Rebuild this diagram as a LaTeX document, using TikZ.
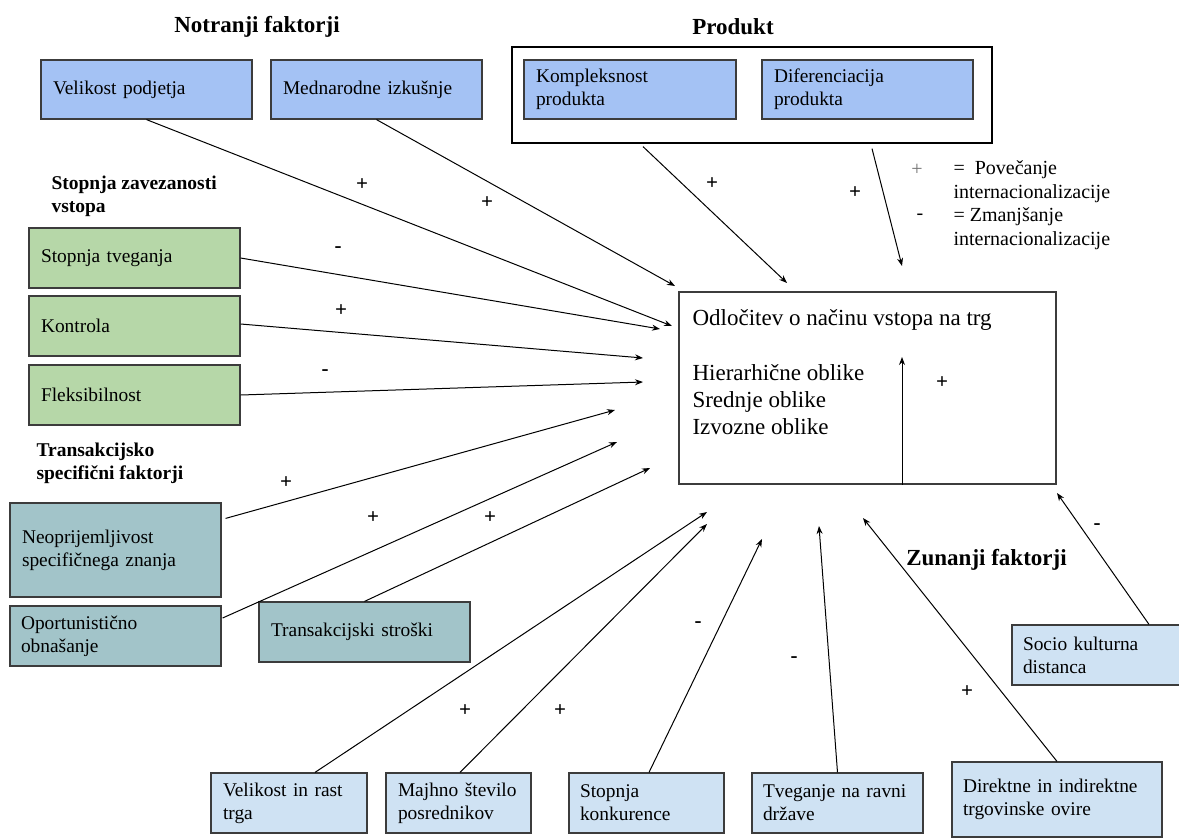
\documentclass[tikz,border=0pt]{standalone}
\usepackage{fontspec}
\setmainfont{Liberation Serif}
\usetikzlibrary{arrows.meta}

\definecolor{blueA}{RGB}{164,194,244}
\definecolor{greenA}{RGB}{182,215,168}
\definecolor{tealA}{RGB}{162,196,201}
\definecolor{blueB}{RGB}{207,226,243}
\definecolor{rim}{RGB}{60,60,60}

\begin{document}
\begin{tikzpicture}[x=1pt,y=-1pt,
  box/.style={draw=rim, line width=1.2pt, align=left, inner xsep=12pt, inner ysep=0pt, font=\fontsize{19.4}{23}\selectfont},
  head/.style={font=\fontsize{23}{27}\selectfont\bfseries},
  subhead/.style={font=\fontsize{19.5}{23}\selectfont\bfseries, align=left},
  sign/.style={font=\fontsize{21}{21}\selectfont\bfseries},
  legend/.style={font=\fontsize{20}{23.5}\selectfont, anchor=west, align=left},
  arr/.style={line width=1pt, -{Stealth[length=8pt,width=6pt]}}]
\useasboundingbox (0,0) rectangle (1179,839);

% titles
\node[head] (nf) at (257,27) {Notranji faktorji};
\node[head] (pr) at (733,27) {Produkt};
\node[subhead, anchor=west] (sz) at (48,196) {Stopnja zavezanosti\\vstopa};
\node[subhead, anchor=west] (tf) at (33,463) {Transakcijsko\\specifični faktorji};
\node[head] (zf) at (986.5,560) {Zunanji faktorji};

% product frame
\node[draw, line width=2.5pt, minimum width=480, minimum height=96] (frame) at (752,95) {};

% boxes
\node[box, fill=blueA, text width=187, minimum height=59] (vp) at (146.5,89.5) {Velikost podjetja};
\node[box, fill=blueA, text width=187, minimum height=59] (mi) at (376.5,89.5) {Mednarodne izkušnje};
\node[box, fill=blueA, text width=188, minimum height=59] (kp) at (630,89.5) {Kompleksnost\\produkta};
\node[box, fill=blueA, text width=187, minimum height=59] (dp) at (867.5,89.5) {Diferenciacija\\produkta};
\node[box, fill=greenA, text width=187, minimum height=60] (st) at (134.5,258) {Stopnja tveganja};
\node[box, fill=greenA, text width=187, minimum height=60] (ko) at (134.5,326) {Kontrola};
\node[box, fill=greenA, text width=187, minimum height=60] (fl) at (134.5,395) {Fleksibilnost};
\node[box, fill=tealA, text width=187, minimum height=94] (ns) at (115.5,550) {Neoprijemljivost\\specifičnega znanja};
\node[box, fill=tealA, text width=189, inner xsep=11pt, minimum height=60] (oo) at (115.5,636) {Oportunistično\\obnašanje};
\node[box, fill=tealA, text width=187, minimum height=60] (ts) at (364.5,632) {Transakcijski stroški};
\node[box, fill=blueB, text width=151, inner xsep=11pt, minimum height=60] (sk) at (1098.5,655) {Socio kulturna\\distanca};
\node[box, fill=blueB, text width=132, minimum height=60] (vr) at (289,803) {Velikost in rast\\trga};
\node[box, fill=blueB, text width=121, minimum height=60] (ms) at (458.5,803) {Majhno število\\posrednikov};
\node[box, fill=blueB, text width=133, inner xsep=11pt, minimum height=60] (sc) at (646.5,803) {Stopnja\\konkurence};
\node[box, fill=blueB, text width=149, inner xsep=11pt, minimum height=60] (tv) at (837.5,803) {Tveganje na ravni\\države};
\node[box, fill=blueB, text width=188, inner xsep=11pt, minimum height=75] (dt) at (1057,799.5) {Direktne in indirektne\\trgovinske ovire};

% decision box
\node[draw=rim, line width=1.2pt, minimum width=377, minimum height=192] (odl) at (867.5,388) {};
\node[anchor=west, font=\fontsize{23}{27}\selectfont] (o1) at (689,320) {Odločitev o načinu vstopa na trg};
\node[anchor=west, align=left, font=\fontsize{23}{27}\selectfont] (o2) at (689,400) {Hierarhične oblike\\Srednje oblike\\Izvozne oblike};
\coordinate (up) at (902,357);
\draw[arr] ([xshift=34.5pt]odl.south) -- (up);
\node[sign] (p0) at (942,383) {+};

% legend
\node[font=\fontsize{20}{20}\selectfont, text=black!55] (l1) at (917,170) {+};
\node[legend] (l2) at (950,181.5) {=\ \ Povečanje\\internacionalizacije};
\node[font=\fontsize{20}{20}\selectfont] (l3) at (920,217) {-};
\node[legend] (l4) at (950,228.5) {= Zmanjšanje\\internacionalizacije};

% arrow ends
\coordinate (e1) at (672,326);
\coordinate (e2) at (675,286);
\coordinate (e3) at (787,283);
\coordinate (e4) at (902,266);
\coordinate (e5) at (660,329);
\coordinate (e6) at (643,358);
\coordinate (e7) at (643,382);
\coordinate (e8) at (615,410);
\coordinate (e9) at (617,442);
\coordinate (e10) at (650,468);
\coordinate (e11) at (707,512);
\coordinate (e12) at (707,524);
\coordinate (e13) at (762,539);
\coordinate (e14) at (819,526);
\coordinate (e15) at (863,518);
\coordinate (e16) at (1057,493);

\draw[arr] (vp.south) -- (e1);
\draw[arr] (mi.south) -- (e2);
\draw[arr] ([xshift=13pt,yshift=-27pt]kp.south) -- (e3);
\draw[arr] ([xshift=4.5pt,yshift=-29pt]dp.south) -- (e4);
\draw[arr] (st.east) -- (e5);
\draw[arr] ([yshift=2pt]ko.east) -- (e6);
\draw[arr] (fl.east) -- (e7);
\draw[arr] ([xshift=4pt,yshift=-16pt]ns.north east) -- (e8);
\draw[arr] ([xshift=1pt,yshift=18pt]oo.east) -- (e9);
\draw[arr] (ts.north) -- (e10);
\draw[arr] ([xshift=26pt]vr.north) -- (e11);
\draw[arr] ([xshift=1.5pt]ms.north) -- (e12);
\draw[arr] ([xshift=2.5pt]sc.north) -- (e13);
\draw[arr] (tv.north) -- (e14);
\draw[arr] (dt.north) -- (e15);
\draw[arr] ([xshift=50.5pt]sk.north) -- (e16);

% signs
\node[sign] (s1) at (362,185) {+};
\node[sign] (s2) at (487,203) {+};
\node[sign] (s3) at (712,184) {+};
\node[sign] (s4) at (855,193) {+};
\node[sign] (s5) at (338,250) {-};
\node[sign] (s6) at (341,311) {+};
\node[sign] (s7) at (325,373) {-};
\node[sign] (s8) at (286,483) {+};
\node[sign] (s9) at (373,518) {+};
\node[sign] (s10) at (490,518) {+};
\node[sign] (s11) at (465,711) {+};
\node[sign] (s12) at (560,711) {+};
\node[sign] (s13) at (698,625) {-};
\node[sign] (s14) at (794,660) {-};
\node[sign] (s15) at (967,692) {+};
\node[sign] (s16) at (1097,527) {-};
\end{tikzpicture}
\end{document}
